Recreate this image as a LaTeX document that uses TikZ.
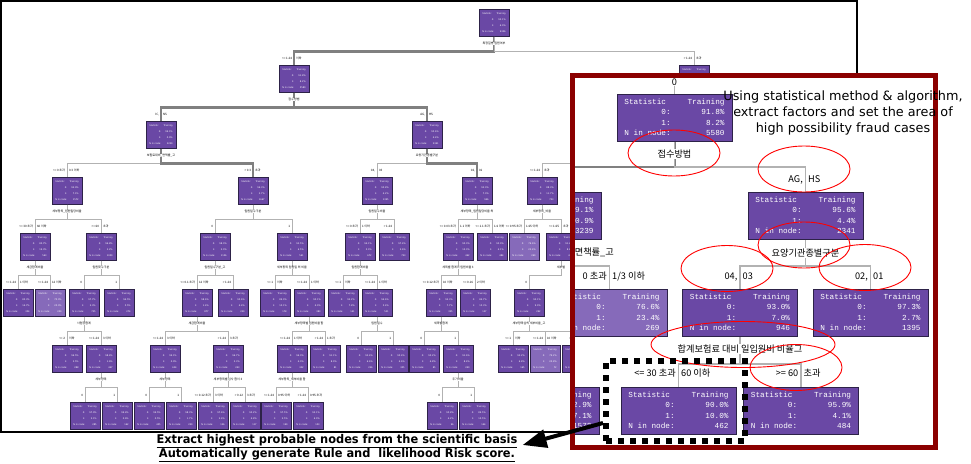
\documentclass[tikz,border=0pt]{standalone}
\usepackage{fontspec}
\setmainfont{DejaVu Sans}
\newfontfamily\statfont{Liberation Mono}
\newfontfamily\korfont{Noto Sans CJK KR}
\newfontfamily\notefont[FakeStretch=0.95]{DejaVu Sans}
\usetikzlibrary{arrows.meta}

\definecolor{nodepurple}{RGB}{106,72,165}
\definecolor{lightpurple}{RGB}{134,106,186}
\definecolor{nodeedge}{RGB}{45,34,72}
\definecolor{framered}{RGB}{139,0,0}
\definecolor{bargray}{RGB}{128,128,128}
\definecolor{lightbar}{RGB}{178,178,178}
\definecolor{ringred}{RGB}{255,0,0}

% statistics table inside a tree node
\newcommand{\bigstats}[3]{\begin{tabular}{@{}l@{\hspace{17pt}}r@{}}Statistic&Training\\\hfill 0:&#1\%\\\hfill 1:&#2\%\\N in node:&#3\end{tabular}}
\newcommand{\tinystats}[3]{\begin{tabular}{@{}l@{\hspace{2.5pt}}r@{}}Statistic&Training\\\hfill 0:&#1\%\\\hfill 1:&#2\%\\N in node:&#3\end{tabular}}
% split condition label, the connector runs through the gap
\newcommand{\splitlab}[5]{%
  \node[#1,anchor=base east] at ([xshift=-1.5pt,yshift=#3]#2.north) {#4};
  \node[#1,anchor=base west] at ([xshift=1.5pt,yshift=#3]#2.north) {#5};}

\begin{document}
\begin{tikzpicture}[x=1pt,y=-1pt,
  tinynode/.style={draw=nodeedge,line width=0.5pt,minimum width=30pt,minimum height=27pt,
    inner sep=0pt,anchor=north,text=white,font=\fontsize{2.3}{6}\selectfont},
  bignode/.style={draw=nodeedge,line width=1pt,fill=nodepurple,minimum width=115pt,minimum height=47pt,
    inner sep=0pt,anchor=north,text=white,font=\statfont\fontsize{7.7}{10.5}\selectfont},
  tlab/.style={font=\korfont\fontsize{3}{3}\selectfont,inner sep=0.3pt},
  zlab/.style={font=\korfont\fontsize{9.2}{9.2}\selectfont,inner sep=1pt},
  tbar/.style={draw=lightbar,line width=1pt},
  thickbar/.style={draw=bargray,line width=2.6pt},
  zbar/.style={draw=lightbar,line width=1.2pt},
  zthick/.style={draw=bargray,line width=2pt},
  ring/.style={draw=ringred,line width=0.9pt},
  pickbox/.style={draw=black,line width=6pt,dash pattern=on 6pt off 6pt,
    minimum width=139pt,minimum height=80pt,inner sep=0pt},
  bigarrow/.style={-{Triangle[length=24pt,width=18pt]},line width=4pt},
  notetext/.style={align=center,inner sep=0pt,font=\fontsize{12.8}{16}\selectfont},
  basisnote/.style={align=center,inner sep=0pt,font=\notefont\bfseries\fontsize{12}{14}\selectfont}]
\useasboundingbox (0,0) rectangle (971,463);

% full decision tree
\foreach \nm/\cx/\cy/\va/\vb/\vn/\fc in {
  t0/494/9/93.1/6.9/9306/nodepurple, t1a/294/65/91.8/8.2/5580/nodepurple,
  t1b/694/65/95.0/5.0/3726/nodepurple, t2a/161/121/99.1/0.9/3239/nodepurple,
  t2b/427/121/95.6/4.4/2341/nodepurple, t3a/67/177/92.9/7.1/1572/nodepurple,
  t3b/253/177/96.3/3.7/1667/nodepurple, t3c/377/177/95.8/4.2/1395/nodepurple,
  t3d/477/177/93.0/7.0/946/nodepurple, t3e/542/177/88.3/11.7/733/nodepurple,
  t4a/35/233/80.7/19.3/563/nodepurple, t4b/101/233/96.8/3.2/1009/nodepurple,
  t4c/215/233/98.0/2.0/1106/nodepurple, t4d/292/233/93.5/6.5/561/nodepurple,
  t4e/360/233/94.1/5.9/672/nodepurple, t4f/394/233/97.4/2.6/723/nodepurple,
  t4g/458/233/90.0/10.0/462/nodepurple, t4h/492/233/95.9/4.1/484/nodepurple,
  t4i/524/233/76.6/23.4/269/lightpurple, t4j/561/233/91.2/8.8/464/nodepurple,
  t5a/18/289/85.3/14.7/354/nodepurple, t5b/50/289/75.0/25.0/209/lightpurple,
  t5c/84/289/97.7/2.3/735/nodepurple, t5d/119/289/94.5/5.5/274/nodepurple,
  t5e/197/289/98.6/1.4/877/nodepurple, t5f/233/289/95.6/4.4/229/nodepurple,
  t5g/275/289/89.9/10.1/178/nodepurple, t5h/309/289/95.1/4.9/383/nodepurple,
  t5i/343/289/92.2/7.8/141/nodepurple, t5j/377/289/94.6/5.4/531/nodepurple,
  t5k/441/289/92.3/7.7/325/nodepurple, t5l/475/289/84.7/15.3/137/nodepurple,
  t5m/529/289/90.1/9.9/292/nodepurple, t6a/67/345/96.5/3.5/288/nodepurple,
  t6b/101/345/98.4/1.6/447/nodepurple, t6c/165/345/99.1/0.9/634/nodepurple,
  t6d/228/345/96.7/3.3/243/nodepurple, t6e/292/345/96.0/4.0/302/nodepurple,
  t6f/325/345/91.1/8.9/81/nodepurple, t6g/361/345/93.4/6.6/226/nodepurple,
  t6h/393/345/95.4/4.6/305/nodepurple, t6i/424/345/95.2/4.8/85/nodepurple,
  t6j/458/345/91.6/8.4/240/nodepurple, t6k/513/345/93.2/6.8/165/nodepurple,
  t6l/545/345/79.2/20.8/72/lightpurple, t6m/577/345/96.4/3.6/55/nodepurple,
  t7a/85/402/97.9/2.1/285/nodepurple, t7b/117/402/99.4/0.6/162/nodepurple,
  t7c/149/402/99.5/0.5/405/nodepurple, t7d/181/402/98.3/1.7/229/nodepurple,
  t7e/213/402/97.6/2.4/126/nodepurple, t7f/245/402/95.2/4.8/117/nodepurple,
  t7g/276/402/97.5/2.5/199/nodepurple, t7h/308/402/93.1/6.9/103/nodepurple,
  t7i/442/402/95.8/4.2/96/nodepurple, t7j/474/402/89.5/10.5/144/nodepurple}
  \node[tinynode,fill=\fc] (\nm) at (\cx,\cy) {\tinystats{\va}{\vb}{\vn}};

\foreach \p/\c/\s/\l/\r in {
  t0/t1a/thickbar/{<= 1.24}/{이하}, t0/t1b/tbar/{> 1.24}/{초과},
  t1a/t2a/thickbar/{IC,}/{NS}, t1a/t2b/thickbar/{AG,}/{HS},
  t2a/t3a/tbar/{<= 0 초과}/{0.3 이하}, t2a/t3b/thickbar/{> 0.3}/{초과},
  t2b/t3c/tbar/{04,}/{03}, t2b/t3d/thickbar/{02,}/{01},
  t3a/t4a/tbar/{<= 30 초과}/{60 이하}, t3a/t4b/tbar/{>= 60}/{초과},
  t3b/t4c/tbar/{0}/{}, t3b/t4d/tbar/{1}/{},
  t3c/t4e/tbar/{<= 0 초과}/{1 이하}, t3c/t4f/tbar/{> 1.24}/{},
  t3d/t4g/tbar/{<= 0.03 초과}/{1.1 이하}, t3d/t4h/tbar/{<= 1.1 초과}/{1.6 이하},
  t3e/t4i/tbar/{<= 0.95 초과}/{1.65 이하}, t3e/t4j/tbar/{<= 1.65}/{초과},
  t4a/t5a/tbar/{<= 1.24}/{1 이하}, t4a/t5b/tbar/{<= 1.24}/{12 이하},
  t4b/t5c/tbar/{0}/{}, t4b/t5d/tbar/{1}/{},
  t4c/t5e/tbar/{<= 0.1 초과}/{12 이하}, t4c/t5f/tbar/{> 1.24}/{},
  t4d/t5g/tbar/{<= 1}/{이하}, t4d/t5h/tbar/{<= 1.24}/{1 이하},
  t4e/t5i/tbar/{<= 1}/{이하}, t4e/t5j/tbar/{<= 1.24}/{1 이하},
  t4g/t5k/tbar/{<= 0.12 초과}/{10 이하}, t4g/t5l/tbar/{<= 0.16}/{2 이하},
  t4j/t5m/tbar/{0}/{},
  t5c/t6a/tbar/{<= 2}/{이하}, t5c/t6b/tbar/{<= 1.24}/{3 이하},
  t5e/t6c/tbar/{<= 1.24}/{3 이하}, t5e/t6d/tbar/{> 1.24}/{3 초과},
  t5h/t6e/tbar/{<= 1.24}/{1 이하}, t5h/t6f/tbar/{> 1.24}/{1 초과},
  t5j/t6g/tbar/{0}/{}, t5j/t6h/tbar/{1}/{},
  t5k/t6i/tbar/{0}/{}, t5k/t6j/tbar/{1}/{},
  t5m/t6k/tbar/{<= 1}/{이하}, t5m/t6l/tbar/{<= 1.24}/{10 이하}, t5m/t6m/tbar/{> 10}/{},
  t6b/t7a/tbar/{0}/{}, t6b/t7b/tbar/{1}/{},
  t6c/t7c/tbar/{0}/{}, t6c/t7d/tbar/{1}/{},
  t6d/t7e/tbar/{<= 0.12 초과}/{3 이하}, t6d/t7f/tbar/{> 0.12}/{3 초과},
  t6e/t7g/tbar/{<= 1.24}/{0.95 이하}, t6e/t7h/tbar/{> 1.24}/{0.95 초과},
  t6j/t7i/tbar/{0}/{}, t6j/t7j/tbar/{1}/{}}
{
  \draw[\s] (\p.south) -- ++(0,15) -| (\c.north);
  \splitlab{tlab}{\c}{6pt}{\l}{\r}
}
\coordinate (t3eroot) at (600,163);
\draw[tbar] (t3eroot) -| (t3e.north);
\splitlab{tlab}{t3e}{6pt}{<= 1.24}{초과}

\foreach \nm/\tx in {t0/특정질병 입원여부, t1a/접수방법, t2a/보험료대비\_면책률\_고,
  t2b/요양기관종별구분, t3a/세부항목\_입원일당비율, t3b/입원일수구분, t3c/입원일수비율,
  t3d/세부항목\_입원일당비율 외, t3e/세부항목\_비율, t4a/세금합계비율,
  t4b/입원횟수구분, t4c/입원일수구분\_고, t4d/세부항목 입원일 외 비율, t4e/입원합계비율,
  t4g/세목별 합계이 입원비율 3, t4j/세부별, t5c/사업장합계, t5e/세금합계비율,
  t5h/세부항목별 입원비율 합, t5j/입원일수, t5k/세목별합계, t5m/세부항목심의 세부비율\_고,
  t6b/세부항목, t6c/세부항목, t6d/세부항목별 심사 합이 3, t6e/세부항목\_세부비율 합,
  t6j/추가비율}
  \node[tlab,fill=white] at ([yshift=-7pt]\nm.south) {\tx};

\draw[line width=1.5pt] (0.75,0.75) rectangle (857,432);

% zoomed part of the tree
\draw[framered,line width=5pt,fill=white] (572.5,75.5) rectangle (935.5,447.5);
\begin{scope}
\clip (575,78) rectangle (933,445);
\node[bignode] (z0) at (674.5,94) {\bigstats{91.8}{8.2}{5580}};
\node[bignode] (zIC) at (543.5,192) {\bigstats{99.1}{0.9}{3239}};
\node[bignode] (zAG) at (805.5,192) {\bigstats{95.6}{4.4}{2341}};
\node[bignode,fill=lightpurple] (zA) at (609.5,289) {\bigstats{76.6}{23.4}{269}};
\node[bignode] (zB) at (740,289) {\bigstats{93.0}{7.0}{946}};
\node[bignode] (zC) at (870.5,289) {\bigstats{97.3}{2.7}{1395}};
\node[bignode] (zD) at (541.5,387) {\bigstats{92.9}{7.1}{1572}};
\node[bignode] (zE) at (678.5,387) {\bigstats{90.0}{10.0}{462}};
\node[bignode] (zF) at (801,387) {\bigstats{95.9}{4.1}{484}};
\coordinate (ztop) at (674.5,78);
\draw[zbar] (ztop) -- (z0.north);
\draw[zthick] (z0.south) -- ++(0,25) -| (zIC.north);
\draw[zbar] (z0.south) -- ++(0,25) -| (zAG.north);
\draw[zbar] (zIC.south) -- ++(0,26) -| (zA.north);
\foreach \c in {zB,zC} \draw[zbar] (zAG.south) -- ++(0,26) -| (\c.north);
\foreach \c in {zE,zF} \draw[zbar] (zB.south) -- ++(0,27) -| (\c.north);
\node[zlab,fill=white] at (674.5,82) {0};
\node[zlab,fill=white] at ([yshift=-12pt]z0.south) {접수방법};
\node[zlab,fill=white] at ([yshift=-13pt]zAG.south) {요양기관종별구분};
\node[zlab,fill=white,anchor=east] at (615,252) {면책률\_고};
\node[zlab,fill=white] at ([yshift=-12pt]zB.south) {합계보험료 대비 일입원비 비율그};
\splitlab{zlab}{zAG}{10pt}{AG,}{HS}
\splitlab{zlab}{zA}{10pt}{0 초과}{1/3 이하}
\splitlab{zlab}{zB}{10pt}{04,}{03}
\splitlab{zlab}{zC}{10pt}{02,}{01}
\splitlab{zlab}{zE}{11pt}{<= 30 초과}{60 이하}
\splitlab{zlab}{zF}{11pt}{>= 60}{초과}
\end{scope}

% marked splits
\foreach \ex/\ey/\rx in {674/153/46, 804/169/46, 804/245/46, 727/268.5/46,
  865/267.5/46, 743/344.5/92, 796/367.5/46}
  \draw[ring] (\ex,\ey) ellipse [x radius=\rx pt, y radius=23pt];

\node[notetext] (method) at (843,113) {Using statistical method \& algorithm,\\
  extract factors and set the area of\\high possibility fraud cases};
\node[pickbox] (pick) at (675.5,401) {};
\node[basisnote] (basis) at (337,448) {\underline{Extract highest probable nodes from the scientific basis}\\
  \underline{Automatically generate Rule and\ \ likelihood Risk score.}};
\draw[bigarrow] ([yshift=-22pt]pick.west) -- ([xshift=5pt,yshift=3pt]basis.east);
\end{tikzpicture}
\end{document}
